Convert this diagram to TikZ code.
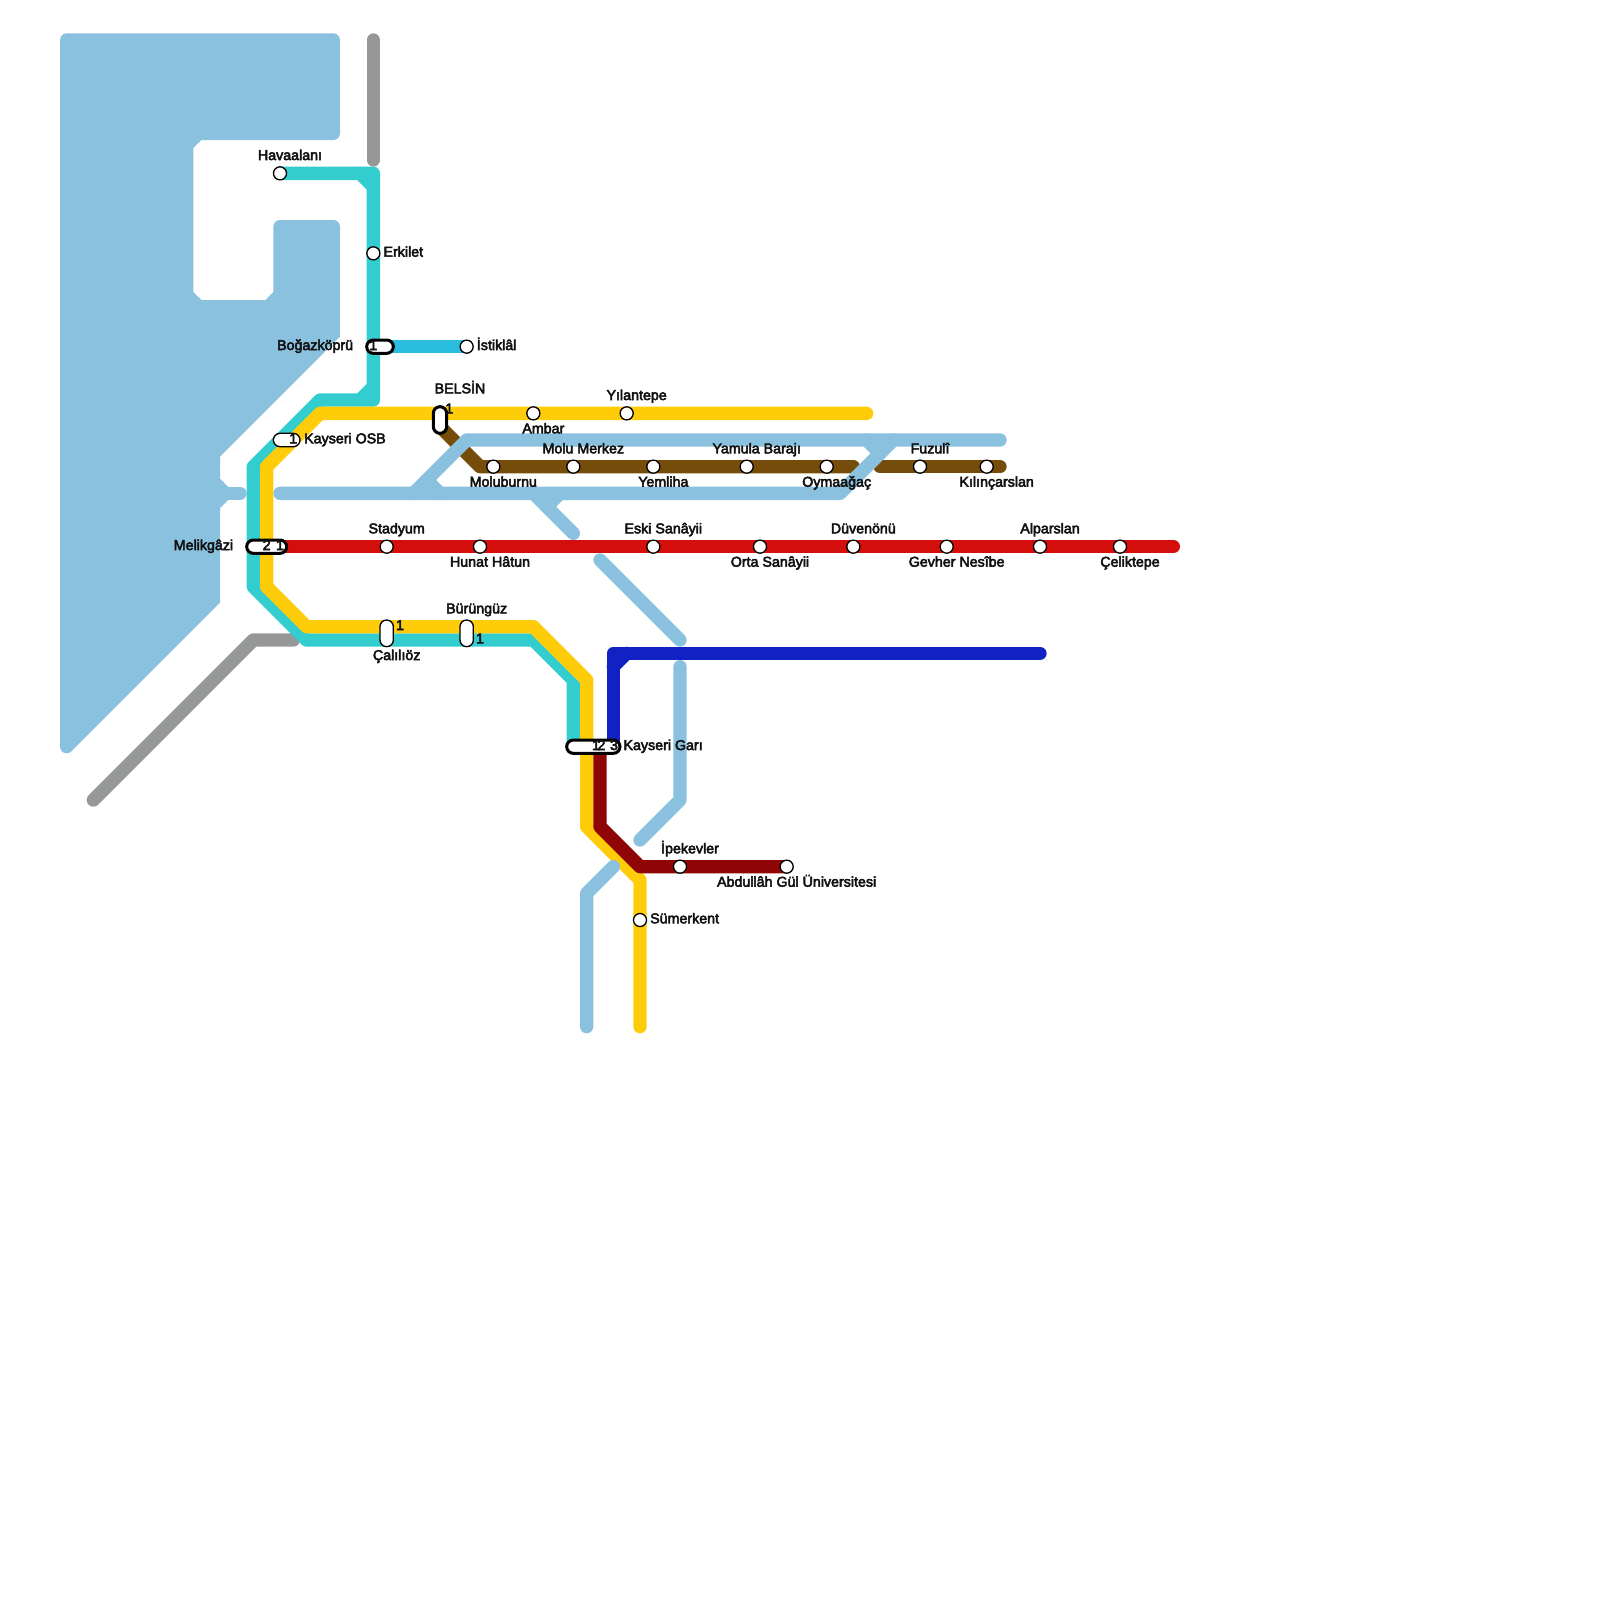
\documentclass[tikz,border=0pt]{standalone}
\usepackage{fontspec}
\setmainfont[FakeBold=3.5]{Liberation Sans}
\usetikzlibrary{backgrounds}
\definecolor{SeaBlue}{HTML}{89C1DE}
\definecolor{LineTurq}{HTML}{33CCCF}
\definecolor{LineYellow}{HTML}{FFCC0A}
\definecolor{LineBrown}{HTML}{754C0A}
\definecolor{LineRed}{HTML}{D40D0D}
\definecolor{LineDarkRed}{HTML}{8F0505}
\definecolor{LineNavy}{HTML}{1221C4}
\definecolor{LineCyan}{HTML}{2BBDE0}
\definecolor{LineGray}{HTML}{969897}
\definecolor{TextDark}{HTML}{111111}

\begin{document}
\begin{tikzpicture}[
	x=0.5cm,
	y=-0.5cm,
	% Line styles
	track/.style={
		line width=0.5cm,
		line cap=round,
		line join=round
	},
	river/.style={track, draw=SeaBlue},
	% Small station
	stop node/.style={
		circle,
		draw=black,
		fill=white,
		line width=1.4pt,
		inner sep=0pt,
		minimum size=0.49cm
	},
	% Capsule stations
	hub node/.style={
		draw=black,
		fill=white,
		rounded corners=0.25cm,
		line width=1.4pt,
		inner sep=0pt
	},
	big hub node/.style={
		hub node,
		line width=3.2pt
	},
	% Text
	name text/.style={
		font=\fontsize{15.2}{17}\selectfont,
		text=TextDark,
		inner sep=0pt,
		anchor=base
	}
	]
	
	\useasboundingbox (0,0) rectangle (120,120);
	
	% ================= STATIONS =================
	\node[stop node] (Havaalani) at (21,13) {};
	\node[stop node] (Erkilet) at (28,19) {};
	\node[stop node] (Istiklal) at (35,26) {};
	\node[stop node] (Ambar) at (40,31) {};
	\node[stop node] (Yilantepe) at (47,31) {};
	
	\node[stop node] (Moluburnu) at (37,35) {};
	\node[stop node] (MoluMerkez) at (43,35) {};
	\node[stop node] (Yemliha) at (49,35) {};
	\node[stop node] (Yamula) at (56,35) {};
	\node[stop node] (Oymaagac) at (62,35) {};
	\node[stop node] (Fuzuli) at (69,35) {};
	\node[stop node] (Kilincarslan) at (74,35) {};
	
	\node[stop node] (Stadyum) at (29,41) {};
	\node[stop node] (Hunat) at (36,41) {};
	\node[stop node] (EskiSanayii) at (49,41) {};
	\node[stop node] (OrtaSanayii) at (57,41) {};
	\node[stop node] (Duvenonu) at (64,41) {};
	\node[stop node] (Gevher) at (71,41) {};
	\node[stop node] (Alparslan) at (78,41) {};
	\node[stop node] (Celiktepe) at (84,41) {};
	
	\node[stop node] (Ipekevler) at (51,65) {};
	\node[stop node] (Abdullah) at (59,65) {};
	\node[stop node] (Sumerkent) at (48,69) {};
	
	\node[big hub node, minimum width=1cm, minimum height=0.5cm] (Bogazkopru) at (28.5,26) {};
	\node[big hub node, minimum width=0.5cm, minimum height=1cm] (Belsin) at (33,31.5) {};
	\node[hub node, minimum width=1cm, minimum height=0.5cm] (KayseriOSB) at (21.5,33) {};
	\node[big hub node, minimum width=1.5cm, minimum height=0.5cm] (Melikgazi) at (20,41) {};
	\node[hub node, minimum width=0.5cm, minimum height=1cm] (Caliloz) at (29,47.5) {};
	\node[hub node, minimum width=0.5cm, minimum height=1cm] (Burunguz) at (35,47.5) {};
	\node[big hub node, minimum width=2cm, minimum height=0.5cm] (KayseriGari) at (44.5,56) {};
	
	% ================= LABELS =================
	\node[name text] (HavaalaniText) at (21.75,12) {Havaalanı};
	\node[name text, anchor=base west] (ErkiletText) at (28.75,19.25) {Erkilet};
	\node[name text, anchor=base east] (BogazkopruText) at (26.5,26.25) {Boğazköprü};
	\node[name text, anchor=base west] (IstiklalText) at (35.75,26.25) {İstiklâl};
	\node[name text] (BelsinText) at (34.5,29.5) {BELSİN};
	\node[name text] (AmbarText) at (40.75,32.5) {Ambar};
	\node[name text] (YilantepeText) at (47.75,30) {Yılantepe};
	\node[name text, anchor=base west] (KayseriOSBText) at (22.8,33.25) {Kayseri OSB};
	
	\node[name text] (MoluburnuText) at (37.75,36.5) {Moluburnu};
	\node[name text] (MoluMerkezText) at (43.75,34) {Molu Merkez};
	\node[name text] (YemlihaText) at (49.75,36.5) {Yemliha};
	\node[name text] (YamulaText) at (56.75,34) {Yamula Barajı};
	\node[name text] (OymaagacText) at (62.75,36.5) {Oymaağaç};
	\node[name text] (FuzuliText) at (69.75,34) {Fuzulî};
	\node[name text] (KilincarslanText) at (74.75,36.5) {Kılınçarslan};
	
	\node[name text, anchor=base east] (MelikgaziText) at (17.5,41.25) {Melikgâzi};
	\node[name text] (StadyumText) at (29.75,40) {Stadyum};
	\node[name text] (HunatText) at (36.75,42.5) {Hunat Hâtun};
	\node[name text] (EskiSanayiiText) at (49.75,40) {Eski Sanâyii};
	\node[name text] (OrtaSanayiiText) at (57.75,42.5) {Orta Sanâyii};
	\node[name text] (DuvenonuText) at (64.75,40) {Düvenönü};
	\node[name text] (GevherText) at (71.75,42.5) {Gevher Nesîbe};
	\node[name text] (AlparslanText) at (78.75,40) {Alparslan};
	\node[name text] (CeliktepeText) at (84.75,42.5) {Çeliktepe};
	
	\node[name text] (BurunguzText) at (35.75,46) {Bürüngüz};
	\node[name text] (CalilozText) at (29.75,49.5) {Çalılıöz};
	\node[name text, anchor=base west] (KayseriGariText) at (46.75,56.25) {Kayseri Garı};
	\node[name text] (IpekevlerText) at (51.75,64) {İpekevler};
	\node[name text] (AbdullahText) at (59.75,66.5) {Abdullâh Gül Üniversitesi};
	\node[name text, anchor=base west] (SumerkentText) at (48.75,69.25) {Sümerkent};
	
	% Platform numbers
	\node[name text] (BogazkopruNum) at (28,26.25) {1};
	\node[name text] (BelsinNum) at (33.7,31) {1};
	\node[name text] (KayseriOSBNum) at (22,33.25) {1};
	\node[name text] (MelikgaziNumA) at (21,41.25) {1};
	\node[name text] (MelikgaziNumB) at (20,41.25) {2};
	\node[name text] (CalilozNum) at (30,47.25) {1};
	\node[name text] (BurunguzNum) at (36,48.25) {1};
	\node[name text] (GariNumA) at (44.7,56.25) {1};
	\node[name text] (GariNumB) at (45.1,56.25) {2};
	\node[name text] (GariNumC) at (46.05,56.25) {3};
	
	% ================= BENDS =================
	\coordinate (TurqA) at (28,13);
	\coordinate (TurqB) at (28,30);
	\coordinate (TurqC) at (24,30);
	\coordinate (TurqD) at (19,35);
	\coordinate (TurqE) at (19,44);
	\coordinate (TurqF) at (23,48);
	\coordinate (TurqG) at (40,48);
	\coordinate (TurqH) at (43,51);
	\coordinate (TurqI) at (43,56);
	\coordinate (TurqJ) at (27,13);
	\coordinate (TurqK) at (28,14);
	\coordinate (TurqL) at (27,30);
	\coordinate (TurqM) at (28,29);
	
	\coordinate (YellowA) at (65,31);
	\coordinate (YellowB) at (24,31);
	\coordinate (YellowC) at (20,35);
	\coordinate (YellowD) at (20,44);
	\coordinate (YellowE) at (23,47);
	\coordinate (YellowF) at (40,47);
	\coordinate (YellowG) at (44,51);
	\coordinate (YellowH) at (44,62);
	\coordinate (YellowI) at (48,66);
	\coordinate (YellowJ) at (48,77);
	
	\coordinate (BrownA) at (33,32);
	\coordinate (BrownB) at (36,35);
	\coordinate (BrownC) at (64,35);
	\coordinate (BrownD) at (66,35);
	\coordinate (BrownE) at (75,35);
	
	\coordinate (RedA) at (21,41);
	\coordinate (RedB) at (88,41);
	
	\coordinate (DarkRedA) at (45,56);
	\coordinate (DarkRedB) at (45,62);
	\coordinate (DarkRedC) at (48,65);
	
	\coordinate (NavyA) at (46,56);
	\coordinate (NavyB) at (46,49);
	\coordinate (NavyC) at (78,49);
	\coordinate (NavyD) at (47,49);
	\coordinate (NavyE) at (46,50);
	
	\coordinate (CyanA) at (28,26);
	
	\coordinate (GrayA) at (28,3);
	\coordinate (GrayB) at (28,12);
	\coordinate (GrayC) at (7,60);
	\coordinate (GrayD) at (19,48);
	\coordinate (GrayE) at (22,48);
	
	\coordinate (RiverA) at (21,37);
	\coordinate (RiverB) at (63,37);
	\coordinate (RiverC) at (67,33);
	\coordinate (RiverD) at (35,33);
	\coordinate (RiverE) at (75,33);
	\coordinate (RiverF) at (31,37);
	\coordinate (RiverG) at (32,36);
	\coordinate (RiverH) at (33,37);
	\coordinate (RiverI) at (65,33);
	\coordinate (RiverJ) at (66,34);
	\coordinate (RiverK) at (40,37);
	\coordinate (RiverL) at (43,40);
	\coordinate (RiverM) at (41,38);
	\coordinate (RiverN) at (42,37);
	\coordinate (RiverO) at (45,42);
	\coordinate (RiverP) at (51,48);
	\coordinate (RiverQ) at (51,50);
	\coordinate (RiverR) at (51,60);
	\coordinate (RiverS) at (48,63);
	\coordinate (RiverT) at (46,65);
	\coordinate (RiverU) at (44,67);
	\coordinate (RiverV) at (44,77);
	\coordinate (RiverW) at (16,37);
	\coordinate (RiverX) at (18,37);
	\coordinate (RiverY) at (5,55);
	\coordinate (RiverZ) at (5,56);
	
	% ================= LINES =================
	\begin{scope}[on background layer]
		% Water
		\fill[SeaBlue, rounded corners=0.25cm]
			(15,2.5) -- (25.5,2.5) -- (25.5,10.5) [sharp corners] -- (15.1,10.5)
			-- (14.5,11.1) -- (14.5,21.9) -- (15.1,22.5) -- (19.9,22.5) -- (20.5,21.9)
			[rounded corners=0.25cm] -- (20.5,16.5) -- (25.5,16.5) [sharp corners] -- (25.5,25.25)
			-- (16.5,34.25) -- (16.5,35.9) -- (17.1,36.5) -- (17.1,37.5) -- (16.5,38.1)
			-- (16.5,45.2) -- (5.35,56.35) -- (4.5,56)
			[rounded corners=0.25cm] -- (4.5,2.5) -- cycle;
		\draw[river] (RiverW) -- (RiverX);
		\draw[river] (RiverY) -- (RiverZ);
		
		\draw[track, draw=LineGray] (GrayA) -- (GrayB);
		\draw[track, draw=LineGray] (GrayC) -- (GrayD) -- (GrayE);
		
		\draw[track, draw=LineTurq] (Havaalani.center) -- (TurqA) -- (Erkilet.center) -- (TurqB) -- (TurqC) -- (TurqD) -- (TurqE) -- (TurqF) -- (TurqG) -- (TurqH) -- (TurqI);
		\draw[track, draw=LineTurq] (TurqJ) -- (TurqK);
		\draw[track, draw=LineTurq] (TurqL) -- (TurqM);
		
		\draw[track, draw=LineYellow] (YellowA) -- (YellowB) -- (YellowC) -- (YellowD) -- (YellowE) -- (YellowF) -- (YellowG) -- (YellowH) -- (YellowI) -- (YellowJ);
		
		\draw[track, draw=LineBrown] (BrownA) -- (BrownB) -- (BrownC);
		\draw[track, draw=LineBrown] (BrownD) -- (BrownE);
		
		\draw[track, draw=LineRed] (RedA) -- (RedB);
		
		\draw[track, draw=LineDarkRed] (DarkRedA) -- (DarkRedB) -- (DarkRedC) -- (Abdullah.center);
		
		\draw[track, draw=LineNavy] (NavyA) -- (NavyB) -- (NavyC);
		\draw[track, draw=LineNavy] (NavyD) -- (NavyE);
		
		\draw[track, draw=LineCyan] (CyanA) -- (Istiklal.center);
		
		\draw[river] (RiverA) -- (RiverB) -- (RiverC);
		\draw[river] (RiverE) -- (RiverD) -- (RiverF);
		\draw[river] (RiverG) -- (RiverH);
		\draw[river] (RiverI) -- (RiverJ);
		\draw[river] (RiverK) -- (RiverL);
		\draw[river] (RiverM) -- (RiverN);
		\draw[river] (RiverO) -- (RiverP);
		\draw[river] (RiverQ) -- (RiverR) -- (RiverS);
		\draw[river] (RiverT) -- (RiverU) -- (RiverV);
	\end{scope}
	
\end{tikzpicture}
\end{document}
